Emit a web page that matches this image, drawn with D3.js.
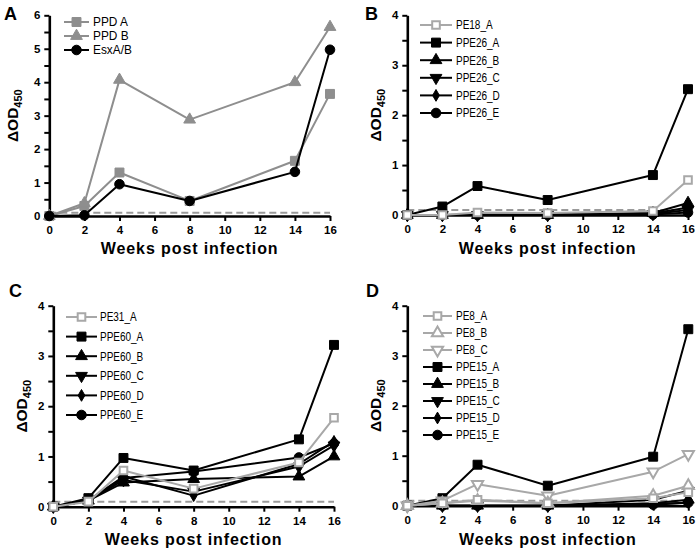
<!DOCTYPE html>
<html><head><meta charset="utf-8">
<script src="https://cdn.jsdelivr.net/npm/d3@7"></script>
<style>body{margin:0;background:#fff}svg{display:block}</style>
</head><body>
<svg id="c" width="698" height="551"></svg>
<script>
// ---------- data ----------
const weeks = [0, 2, 4, 8, 14, 16];
const xTicks = [0, 2, 4, 6, 8, 10, 12, 14, 16];
const yTicksA = [0, 1, 2, 3, 4, 5, 6];
const yTicksBCD = [0, 1, 2, 3, 4];
const cutoff = 0.1;
const xTitle = "Weeks post infection";

// Panel A
const namesA = ["PPD A", "PPD B", "EsxA/B"];
const ppdA   = [0, 0.30, 1.30, 0.45, 1.65, 3.65];
const ppdB   = [0, 0.38, 4.07, 2.88, 4.00, 5.65];
const esxAB  = [0, 0.02, 0.95, 0.45, 1.32, 4.97];

// Panel B
const namesB = ["PE18_A", "PPE26_A", "PPE26_B", "PPE26_C", "PPE26_D", "PPE26_E"];
const pe18A  = [0, 0.00, 0.05, 0.04, 0.08, 0.70];
const ppe26A = [0, 0.17, 0.58, 0.30, 0.80, 2.52];
const ppe26B = [0, 0.00, 0.00, 0.00, 0.04, 0.24];
const ppe26C = [0, 0.00, 0.00, 0.00, 0.02, 0.10];
const ppe26D = [0, 0.00, 0.01, 0.01, 0.03, 0.15];
const ppe26E = [0, 0.00, 0.00, 0.00, 0.01, 0.05];

// Panel C
const namesC = ["PE31_A", "PPE60_A", "PPE60_B", "PPE60_C", "PPE60_D", "PPE60_E"];
const pe31A  = [0, 0.10, 0.72, 0.36, 0.88, 1.77];
const ppe60A = [0, 0.17, 0.97, 0.72, 1.34, 3.22];
const ppe60B = [0, 0.12, 0.48, 0.55, 0.60, 1.00];
const ppe60C = [0, 0.12, 0.53, 0.30, 0.80, 1.22];
const ppe60D = [0, 0.12, 0.60, 0.22, 0.85, 1.30];
const ppe60E = [0, 0.13, 0.57, 0.70, 0.98, 1.26];

// Panel D
const namesD = ["PE8_A", "PE8_B", "PE8_C", "PPE15_A", "PPE15_B", "PPE15_C", "PPE15_D", "PPE15_E"];
const pe8A   = [0, 0.05, 0.12, 0.05, 0.15, 0.27];
const pe8B   = [0, 0.05, 0.10, 0.05, 0.20, 0.40];
const pe8C   = [0, 0.10, 0.43, 0.20, 0.68, 1.03];
const ppe15A = [0, 0.15, 0.82, 0.40, 0.98, 3.53];
const ppe15B = [0, 0.00, 0.00, 0.00, 0.05, 0.12];
const ppe15C = [0, 0.00, 0.00, 0.00, 0.12, 0.30];
const ppe15D = [0, 0.00, 0.00, 0.00, 0.04, 0.06];
const ppe15E = [0, 0.00, 0.00, 0.00, 0.02, 0.06];

// ---------- styles ----------
const GRAY_A = "#8e8e8e", GRAY = "#a8a8a8", BLACK = "#000";
const sym = {
  square: {type: d3.symbolSquare, size: 80, rot: 0},
  tri: {type: d3.symbolTriangle, size: 60, rot: 0},
  triDown: {type: d3.symbolTriangle, size: 60, rot: 180},
  diamond: {type: d3.symbolDiamond, size: 40, rot: 0},
  circle: {type: d3.symbolCircle, size: 72, rot: 0},
  oSquare: {type: d3.symbolSquare, size: 58, rot: 0},
  oTri: {type: d3.symbolTriangle, size: 55, rot: 0},
  oTriDown: {type: d3.symbolTriangle, size: 55, rot: 180}
};

const panels = [
  {letter: "A", lx: 4, ly: 20, x0: 49.3, x1: 330, yB: 216, yT: 15.3, yMax: 6, yTicks: yTicksA,
   yTitleX: 18, xTitleY: 254,
   leg: {x1: 64, x2: 89, tx: 93, y0: 22, dy: 14, size: 12.5, sx: 0.95},
   order: "forward",
   series: [
     {name: namesA[0], v: ppdA, c: GRAY_A, s: "square", open: false},
     {name: namesA[1], v: ppdB, c: GRAY_A, s: "tri", open: false},
     {name: namesA[2], v: esxAB, c: BLACK, s: "circle", open: false}]},
  {letter: "B", lx: 365, ly: 20, x0: 407.3, x1: 688, yB: 215, yT: 15.3, yMax: 4, yTicks: yTicksBCD,
   yTitleX: 381, xTitleY: 254,
   leg: {x1: 420, x2: 452, tx: 456, y0: 25, dy: 17.6, size: 12.5, sx: 0.8},
   order: "reverse",
   series: [
     {name: namesB[0], v: pe18A, c: GRAY, s: "oSquare", open: true},
     {name: namesB[1], v: ppe26A, c: BLACK, s: "square"},
     {name: namesB[2], v: ppe26B, c: BLACK, s: "tri"},
     {name: namesB[3], v: ppe26C, c: BLACK, s: "triDown"},
     {name: namesB[4], v: ppe26D, c: BLACK, s: "diamond"},
     {name: namesB[5], v: ppe26E, c: BLACK, s: "circle"}]},
  {letter: "C", lx: 9, ly: 297, x0: 53.3, x1: 334, yB: 506.7, yT: 305.7, yMax: 4, yTicks: yTicksBCD,
   yTitleX: 27, xTitleY: 545,
   leg: {x1: 66, x2: 97, tx: 100, y0: 317, dy: 19.6, size: 12.5, sx: 0.8},
   order: "reverse",
   series: [
     {name: namesC[0], v: pe31A, c: GRAY, s: "oSquare", open: true},
     {name: namesC[1], v: ppe60A, c: BLACK, s: "square"},
     {name: namesC[2], v: ppe60B, c: BLACK, s: "tri"},
     {name: namesC[3], v: ppe60C, c: BLACK, s: "triDown"},
     {name: namesC[4], v: ppe60D, c: BLACK, s: "diamond"},
     {name: namesC[5], v: ppe60E, c: BLACK, s: "circle"}]},
  {letter: "D", lx: 366, ly: 297, x0: 407.3, x1: 688.3, yB: 505.7, yT: 305.7, yMax: 4, yTicks: yTicksBCD,
   yTitleX: 381, xTitleY: 545,
   leg: {x1: 423, x2: 452, tx: 456, y0: 316, dy: 17, size: 12.5, sx: 0.8},
   order: "reverse",
   series: [
     {name: namesD[0], v: pe8A, c: GRAY, s: "oSquare", open: true},
     {name: namesD[1], v: pe8B, c: GRAY, s: "oTri", open: true},
     {name: namesD[2], v: pe8C, c: GRAY, s: "oTriDown", open: true},
     {name: namesD[3], v: ppe15A, c: BLACK, s: "square"},
     {name: namesD[4], v: ppe15B, c: BLACK, s: "tri"},
     {name: namesD[5], v: ppe15C, c: BLACK, s: "triDown"},
     {name: namesD[6], v: ppe15D, c: BLACK, s: "diamond"},
     {name: namesD[7], v: ppe15E, c: BLACK, s: "circle"}]}
];

const svg = d3.select("#c");
const FONT = "'Liberation Sans', Arial, Helvetica, sans-serif";

function marker(g, spec, cx, cy, color, open) {
  const m = sym[spec];
  g.append("path")
    .attr("d", d3.symbol().type(m.type).size(m.size)())
    .attr("transform", `translate(${cx},${cy}) rotate(${m.rot})`)
    .attr("fill", open ? "#fff" : color)
    .attr("stroke", color)
    .attr("stroke-width", open ? 2 : 1);
}

panels.forEach(p => {
  const g = svg.append("g");
  const x = d3.scaleLinear().domain([0, 16]).range([p.x0, p.x1]);
  const y = d3.scaleLinear().domain([0, p.yMax]).range([p.yB, p.yT]);

  // panel letter
  g.append("text").attr("x", p.lx).attr("y", p.ly).text(p.letter)
    .attr("font-family", FONT).attr("font-weight", "bold").attr("font-size", 18);

  // cutoff dashed line
  g.append("line").attr("x1", x(0)).attr("x2", x(16)).attr("y1", y(cutoff)).attr("y2", y(cutoff))
    .attr("stroke", "#9a9a9a").attr("stroke-width", 2).attr("stroke-dasharray", "7,4");

  // axes
  const xa = g.append("g").attr("transform", `translate(0,${p.yB})`)
    .call(d3.axisBottom(x).tickValues(xTicks).tickFormat(d3.format("d"))
      .tickSize(5).tickSizeOuter(0).tickPadding(5));
  const ya = g.append("g").attr("transform", `translate(${p.x0},0)`)
    .call(d3.axisLeft(y).tickValues(p.yTicks).tickFormat(d3.format("d"))
      .tickSize(5).tickSizeOuter(0).tickPadding(4));
  const halfTicks = d3.range(0.5, p.yMax, 1);
  const ym = g.append("g").attr("transform", `translate(${p.x0},0)`)
    .call(d3.axisLeft(y).tickValues(halfTicks).tickSize(5).tickFormat(""));
  ym.select(".domain").remove();
  [xa, ya, ym].forEach(a => {
    a.select(".domain").attr("stroke", "#000").attr("stroke-width", 2.6);
    a.selectAll(".tick line").attr("stroke", "#000").attr("stroke-width", 2);
    a.selectAll(".tick text").attr("font-family", FONT).attr("font-weight", "bold")
      .attr("font-size", 11.5).attr("fill", "#000");
  });

  // axis titles
  g.append("text").attr("x", (p.x0 + p.x1) / 2).attr("y", p.xTitleY)
    .attr("text-anchor", "middle").attr("font-family", FONT).attr("font-weight", "bold")
    .attr("font-size", 16).attr("letter-spacing", 0.9).text(xTitle);
  const yt = g.append("text")
    .attr("transform", `translate(${p.yTitleX},${(p.yB + p.yT) / 2}) rotate(-90)`)
    .attr("text-anchor", "middle").attr("font-family", FONT).attr("font-weight", "bold")
    .attr("font-size", 15.5);
  yt.append("tspan").text("\u0394OD");
  yt.append("tspan").attr("font-size", 11).attr("dy", 4).text("450");

  // series
  const line = d3.line().x((d, i) => x(weeks[i])).y(d => y(d));
  const list = p.order === "reverse" ? p.series.slice().reverse() : p.series;
  list.forEach(s => {
    const sg = g.append("g");
    sg.append("path").attr("d", line(s.v)).attr("fill", "none")
      .attr("stroke", s.c).attr("stroke-width", 2).attr("stroke-linejoin", "round");
    s.v.forEach((v, i) => marker(sg, s.s, x(weeks[i]), y(v), s.c, s.open));
  });

  // legend
  p.series.forEach((s, i) => {
    const ly = p.leg.y0 + i * p.leg.dy;
    g.append("line").attr("x1", p.leg.x1).attr("x2", p.leg.x2).attr("y1", ly).attr("y2", ly)
      .attr("stroke", s.c).attr("stroke-width", 2);
    marker(g, s.s, (p.leg.x1 + p.leg.x2) / 2, ly, s.c, s.open);
    g.append("text")
      .attr("transform", `translate(${p.leg.tx},${ly}) scale(${p.leg.sx},1)`)
      .attr("dy", "0.35em").attr("font-family", FONT).attr("font-size", p.leg.size)
      .attr("fill", "#000").text(s.name);
  });
});
</script>
</body></html>
